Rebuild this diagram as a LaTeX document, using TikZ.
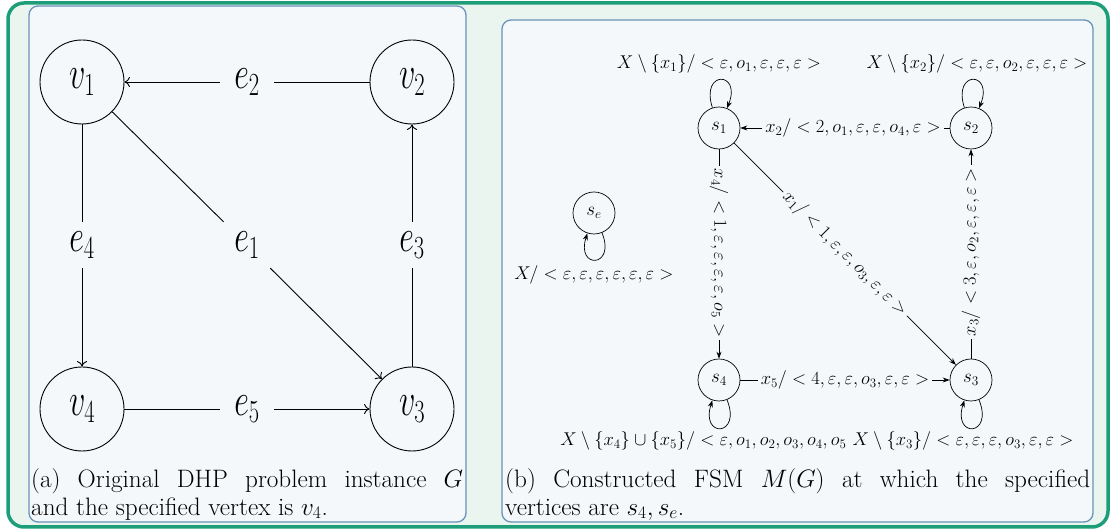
\RequirePackage{fix-cm}
\documentclass[tikz,border=0pt]{standalone}
\usepackage{amsmath,graphicx}
\usetikzlibrary{arrows.meta}
\definecolor{framegreen}{HTML}{1E9E78}
\definecolor{outerbg}{HTML}{EAF5F0}
\definecolor{panelblue}{HTML}{6A92BA}
\definecolor{panelbg}{HTML}{F4F8FB}
\newcommand{\leftmath}[1]{\scalebox{0.7}[1]{$#1$}}
\begin{document}
\begin{tikzpicture}[x=1pt,y=1pt,
  bigv/.style={circle, draw, line width=0.9pt, minimum size=84pt, inner sep=0pt, font=\fontsize{46}{50}\selectfont},
  elab/.style={inner sep=0pt, minimum width=54pt, minimum height=46pt, font=\fontsize{46}{50}\selectfont},
  larr/.style={-{To[length=5.5pt,width=10pt]}, line width=0.9pt},
  ln/.style={line width=0.9pt},
  stnode/.style={circle, draw, line width=0.7pt, minimum size=42pt, inner sep=0pt, font=\fontsize{19}{22}\selectfont},
  elabr/.style={font=\fontsize{18.5}{22}\selectfont, inner sep=3pt},
  arrr/.style={-{Stealth[length=7pt,width=5pt]}, line width=0.7pt},
  slin/.style={line width=0.7pt},
  captext/.style={anchor=north west, inner sep=0pt, align=justify, font=\fontsize{25.2}{28}\selectfont}]
\useasboundingbox (0,0) rectangle (1111,529);
\fill[white] (0,0) rectangle (1111,529);
\draw[framegreen, line width=3.5pt, fill=outerbg, rounded corners=16pt] (8,2) rectangle (1108,526);
\draw[panelblue, line width=1.3pt, fill=panelbg, rounded corners=9pt] (29,7) rectangle (466,523);
\draw[panelblue, line width=1.3pt, fill=panelbg, rounded corners=9pt] (502,7) rectangle (1093,509);

% ---- left graph
\node[bigv] (v1) at (82,447) {\leftmath{v_1}};
\node[bigv] (v2) at (412,447) {\leftmath{v_2}};
\node[bigv] (v3) at (412,120) {\leftmath{v_3}};
\node[bigv] (v4) at (82,120) {\leftmath{v_4}};
\node[elab] (e2) at (247,447) {\leftmath{e_2}};
\node[elab] (e1) at (247,284) {\leftmath{e_1}};
\node[elab] (e4) at (82,284) {\leftmath{e_4}};
\node[elab] (e3) at (412,284) {\leftmath{e_3}};
\node[elab] (e5) at (247,120) {\leftmath{e_5}};
\draw[ln] (v2) -- (e2); \draw[larr] (e2) -- (v1);
\draw[ln] (v1) -- (e1); \draw[larr] (e1) -- (v3);
\draw[ln] (v3) -- (e3); \draw[larr] (e3) -- (v2);
\draw[ln] (v1) -- (e4); \draw[larr] (e4) -- (v4);
\draw[ln] (v4) -- (e5); \draw[larr] (e5) -- (v3);
\node[captext, text width=432pt] (capa) at (31,61) {(a) Original DHP problem instance $G$\linebreak and the specified vertex is $v_4$.};

% ---- right FSM
\node[stnode] (s1) at (719,401) {$s_1$};
\node[stnode] (s2) at (971,401) {$s_2$};
\node[stnode] (s3) at (971,149) {$s_3$};
\node[stnode] (s4) at (719,149) {$s_4$};
\node[stnode] (se) at (594,316) {$s_e$};

\node[elabr] (l21) at (853,401) {$x_2/<2,o_1,\varepsilon,\varepsilon,o_4,\varepsilon>$};
\draw[slin] (s2) -- (l21); \draw[arrr] (l21) -- (s1);
\node[elabr, rotate=-90] (l14) at (719,276) {$x_4/<1,\varepsilon,\varepsilon,\varepsilon,\varepsilon,o_5>$};
\draw[slin] (s1) -- (l14); \draw[arrr] (l14) -- (s4);
\node[elabr, rotate=-45] (l13) at (845,275) {$x_1/<1,\varepsilon,\varepsilon,o_3,\varepsilon,\varepsilon>$};
\draw[slin] (s1) -- (l13); \draw[arrr] (l13) -- (s3);
\node[elabr, rotate=90] (l32) at (971,277) {$x_3/<3,\varepsilon,o_2,\varepsilon,\varepsilon,\varepsilon>$};
\draw[slin] (s3) -- (l32); \draw[arrr] (l32) -- (s2);
\node[elabr] (l43) at (845,149) {$x_5/<4,\varepsilon,\varepsilon,o_3,\varepsilon,\varepsilon>$};
\draw[slin] (s4) -- (l43); \draw[arrr] (l43) -- (s3);

\draw[arrr] (s1) to[out=108,in=68,distance=40pt] (s1);
\draw[arrr] (s2) to[out=108,in=68,distance=40pt] (s2);
\draw[arrr] (s4) to[out=-68,in=-108,distance=40pt] (s4);
\draw[arrr] (s3) to[out=-68,in=-108,distance=40pt] (s3);
\draw[arrr] (se) to[out=-68,in=-108,distance=38pt] (se);

\node[elabr] (ls1) at (719,465) {$X\setminus\{x_1\}/<\varepsilon,o_1,\varepsilon,\varepsilon,\varepsilon>$};
\node[elabr] (ls2) at (977,465) {$X\setminus\{x_2\}/<\varepsilon,\varepsilon,o_2,\varepsilon,\varepsilon,\varepsilon>$};
\node[elabr] (ls4) at (713,88) {$X\setminus\{x_4\}\cup\{x_5\}/<\varepsilon,o_1,o_2,o_3,o_4,o_5>$};
\node[elabr, fill=panelbg, inner sep=1pt] (ls3) at (963,88) {$X\setminus\{x_3\}/<\varepsilon,\varepsilon,\varepsilon,o_3,\varepsilon,\varepsilon>$};
\node[elabr] (lse) at (594,254) {$X/<\varepsilon,\varepsilon,\varepsilon,\varepsilon,\varepsilon,\varepsilon>$};

\node[captext, text width=585pt] (capb) at (505,61) {(b) Constructed FSM $M(G)$ at which the specified\linebreak vertices are $s_4,s_e$.};
\end{tikzpicture}
\end{document}
